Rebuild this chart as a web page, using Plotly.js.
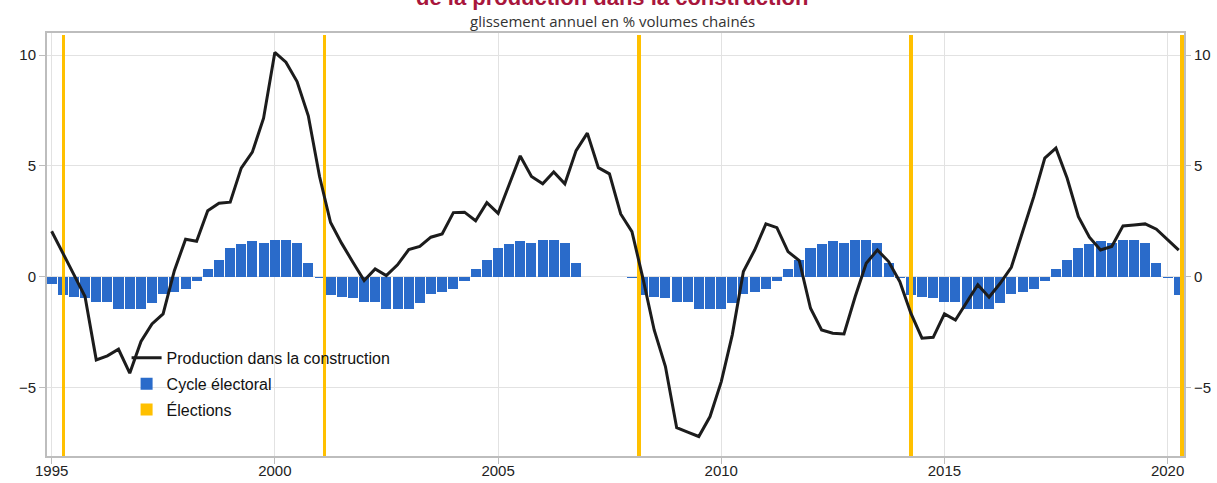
<!DOCTYPE html>
<html>
<head>
<meta charset="utf-8">
<script src="https://cdn.plot.ly/plotly-3.0.1.min.js"></script>
<style>html,body{margin:0;padding:0;background:#fff;}#chart{width:1217px;height:483px;}</style>
</head>
<body>
<div id="chart"></div>
<script>
// Quarterly periods (1995 T1 to 2020 T2)
const quarters = [
  '1995-01','1995-04','1995-07','1995-10',
  '1996-01','1996-04','1996-07','1996-10',
  '1997-01','1997-04','1997-07','1997-10',
  '1998-01','1998-04','1998-07','1998-10',
  '1999-01','1999-04','1999-07','1999-10',
  '2000-01','2000-04','2000-07','2000-10',
  '2001-01','2001-04','2001-07','2001-10',
  '2002-01','2002-04','2002-07','2002-10',
  '2003-01','2003-04','2003-07','2003-10',
  '2004-01','2004-04','2004-07','2004-10',
  '2005-01','2005-04','2005-07','2005-10',
  '2006-01','2006-04','2006-07','2006-10',
  '2007-01','2007-04','2007-07','2007-10',
  '2008-01','2008-04','2008-07','2008-10',
  '2009-01','2009-04','2009-07','2009-10',
  '2010-01','2010-04','2010-07','2010-10',
  '2011-01','2011-04','2011-07','2011-10',
  '2012-01','2012-04','2012-07','2012-10',
  '2013-01','2013-04','2013-07','2013-10',
  '2014-01','2014-04','2014-07','2014-10',
  '2015-01','2015-04','2015-07','2015-10',
  '2016-01','2016-04','2016-07','2016-10',
  '2017-01','2017-04','2017-07','2017-10',
  '2018-01','2018-04','2018-07','2018-10',
  '2019-01','2019-04','2019-07','2019-10',
  '2020-01','2020-04'
];

// Production dans la construction, glissement annuel en %
const production = [
  2.05, 1.05, 0.10, -0.90,
  -3.76, -3.58, -3.28, -4.36,
  -2.93, -2.14, -1.68, 0.27,
  1.69, 1.60, 2.98, 3.31,
  3.36, 4.90, 5.62, 7.15,
  10.12, 9.68, 8.81, 7.26,
  4.52, 2.44, 1.50, 0.65,
  -0.18, 0.35, 0.05, 0.53,
  1.22, 1.36, 1.78, 1.93,
  2.89, 2.91, 2.52, 3.34,
  2.86, 4.15, 5.45, 4.52,
  4.19, 4.73, 4.19, 5.69,
  6.48, 4.92, 4.64, 2.83,
  2.03, -0.10, -2.41, -4.06,
  -6.82, -7.02, -7.22, -6.32,
  -4.74, -2.63, 0.23, 1.20,
  2.38, 2.21, 1.13, 0.72,
  -1.43, -2.41, -2.56, -2.59,
  -0.90, 0.60, 1.20, 0.68,
  -0.23, -1.65, -2.78, -2.74,
  -1.68, -1.96, -1.17, -0.37,
  -0.93, -0.30, 0.42, 2.00,
  3.61, 5.35, 5.80, 4.44,
  2.71, 1.78, 1.20, 1.36,
  2.29, 2.33, 2.38, 2.14,
  1.66, 1.20
];

// Cycle électoral
const cycle = [
  -0.35, -0.85, -0.92, -0.95,
  -1.13, -1.13, -1.45, -1.45,
  -1.45, -1.17, -0.80, -0.68,
  -0.56, -0.18, 0.35, 0.75,
  1.30, 1.48, 1.61, 1.52,
  1.66, 1.66, 1.52, 0.62,
  -0.04, -0.85, -0.92, -0.95,
  -1.13, -1.13, -1.45, -1.45,
  -1.45, -1.17, -0.80, -0.68,
  -0.56, -0.18, 0.35, 0.75,
  1.30, 1.48, 1.61, 1.52,
  1.66, 1.66, 1.52, 0.62,
  0, 0, 0, 0,
  -0.04, -0.85, -0.92, -0.95,
  -1.13, -1.13, -1.45, -1.45,
  -1.45, -1.17, -0.80, -0.68,
  -0.56, -0.18, 0.35, 0.75,
  1.30, 1.48, 1.61, 1.52,
  1.66, 1.66, 1.52, 0.62,
  -0.04, -0.85, -0.92, -0.95,
  -1.13, -1.13, -1.45, -1.45,
  -1.45, -1.17, -0.80, -0.68,
  -0.56, -0.18, 0.35, 0.75,
  1.30, 1.48, 1.61, 1.52,
  1.66, 1.66, 1.52, 0.62,
  -0.04, -0.85
];

// Élections
const elections = ['1995-04-08', '2001-02-10', '2008-03-01', '2014-04-01', '2020-04-27'];

const yMin = -8.1, yMax = 11;
const yTicks = [-5, 0, 5, 10];
const yTickText = ['\u22125', '0', '5', '10'];
const xTicks = ['1995-01-01','2000-01-01','2005-01-01','2010-01-01','2015-01-01','2020-01-01'];
const xTickText = ['1995','2000','2005','2010','2015','2020'];

const DAY = 86400000;
const FONT = 'Liberation Sans, Arial, Helvetica, sans-serif';

const traces = [
  {
    type: 'scatter', mode: 'lines', name: 'Production dans la construction',
    x: quarters, y: production,
    line: {color: '#1c1c1c', width: 3},
    legendgroup: 'a'
  },
  {
    type: 'bar', name: 'Cycle électoral',
    x: quarters, y: cycle,
    width: 82 * DAY,
    marker: {color: '#2a6bca', line: {width: 0}},
    legendgroup: 'b'
  },
  {
    type: 'bar', name: 'Élections',
    x: elections, y: elections.map(() => yMax - yMin - 0.1), base: yMin,
    width: 30 * DAY,
    marker: {color: '#ffc000', line: {width: 0}},
    legendgroup: 'c'
  }
];

const axisCommon = {
  showline: true, linecolor: '#bdbdbd', linewidth: 2, mirror: true,
  gridcolor: '#e2e2e2', gridwidth: 1.2, zeroline: false,
  ticks: 'outside', ticklen: 6, tickcolor: '#bdbdbd', tickwidth: 1,
  tickfont: {family: FONT, size: 15, color: '#222'}
};

const layout = {
  width: 1217, height: 483,
  margin: {l: 47, r: 33, t: 33, b: 27},
  paper_bgcolor: '#fff', plot_bgcolor: '#fff',
  barmode: 'overlay', bargap: 0,
  showlegend: true,
  legend: {
    x: 0.07, y: 0.272, xanchor: 'left', yanchor: 'top',
    bgcolor: 'rgba(0,0,0,0)', borderwidth: 0,
    font: {family: FONT, size: 16, color: '#111'},
    tracegroupgap: 2, traceorder: 'grouped'
  },
  xaxis: Object.assign({}, axisCommon, {
    type: 'date', range: ['1994-11-24', '2020-05-14'],
    tickvals: xTicks, ticktext: xTickText, ticklabelstandoff: -6
  }),
  yaxis: Object.assign({}, axisCommon, {
    range: [yMin, yMax], tickvals: yTicks, ticktext: yTickText
  }),
  yaxis2: Object.assign({}, axisCommon, {
    range: [yMin, yMax], tickvals: yTicks, ticktext: yTickText,
    overlaying: 'y', side: 'right', showgrid: false, showline: false
  }),
  annotations: [
    {
      xref: 'paper', yref: 'paper', x: 0.497, y: 1.084, xanchor: 'center', yanchor: 'middle',
      text: '<b>de la production dans la construction</b>', showarrow: false,
      font: {family: FONT, size: 22, color: '#a8163c'}
    },
    {
      xref: 'paper', yref: 'paper', x: 0.497, y: 1.028, xanchor: 'center', yanchor: 'middle',
      text: 'glissement annuel en % volumes chainés', showarrow: false,
      font: {family: 'Open Sans, sans-serif', size: 15, color: '#333'}
    }
  ]
};

// invisible point so the right-hand axis is drawn
traces.push({type: 'scatter', x: [quarters[0]], y: [0], yaxis: 'y2', mode: 'markers',
  marker: {opacity: 0}, showlegend: false, hoverinfo: 'skip'});

Plotly.newPlot('chart', traces, layout, {displayModeBar: false, staticPlot: true});
</script>
</body>
</html>
